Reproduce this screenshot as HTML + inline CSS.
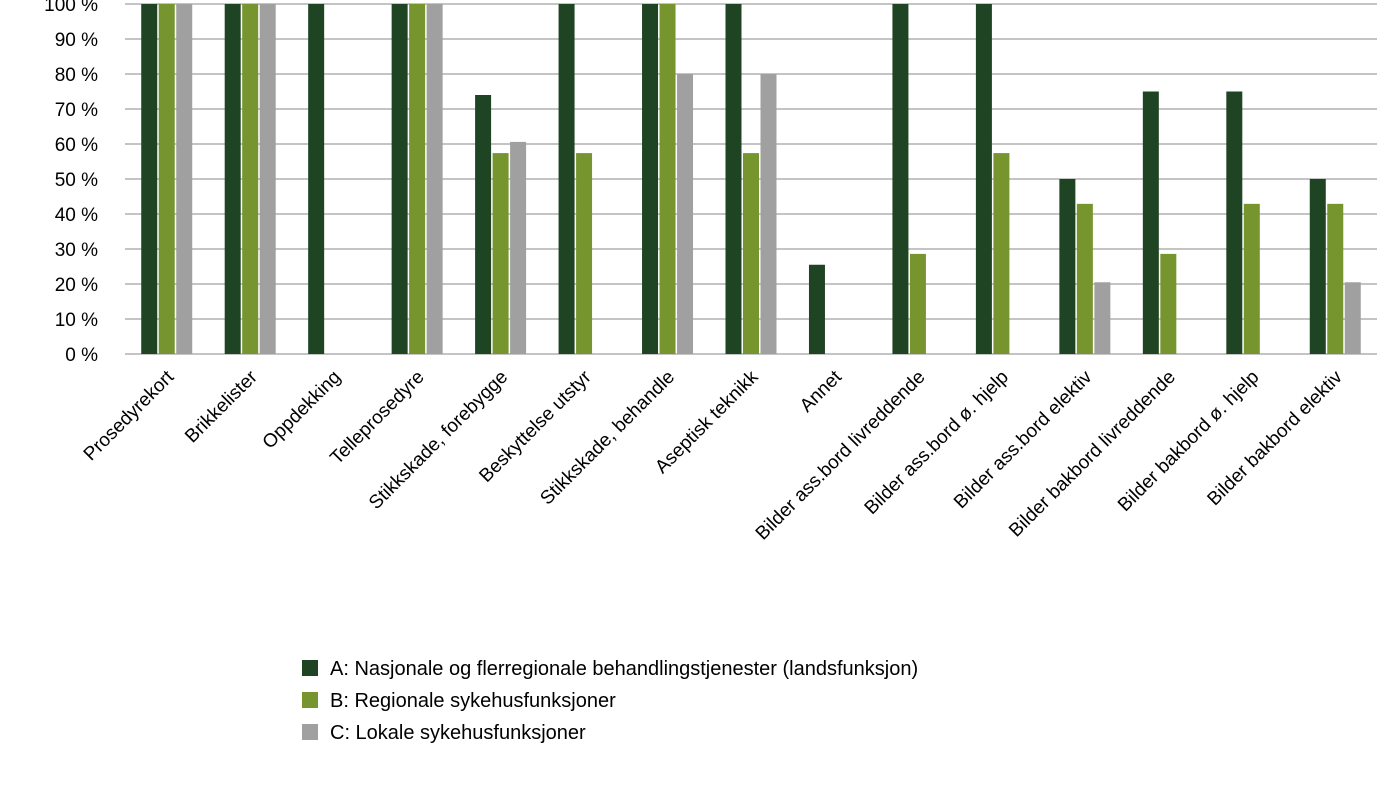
<!DOCTYPE html>
<html><head><meta charset="utf-8"><style>
html,body{margin:0;padding:0;background:#fff;}
svg text{font-family:"Liberation Sans",sans-serif;fill:#000;}
</style></head><body>
<svg id="chart" width="1400" height="786" xmlns="http://www.w3.org/2000/svg"></svg>
<script>
const categories=["Prosedyrekort","Brikkelister","Oppdekking","Telleprosedyre","Stikkskade, forebygge","Beskyttelse utstyr","Stikkskade, behandle","Aseptisk teknikk","Annet","Bilder ass.bord livreddende","Bilder ass.bord ø. hjelp","Bilder ass.bord elektiv","Bilder bakbord livreddende","Bilder bakbord ø. hjelp","Bilder bakbord elektiv"];
const seriesA=[100,100,100,100,74,100,100,100,25.5,100,100,50,75,75,50];
const seriesB=[100,100,0,100,57.4,57.4,100,57.4,0,28.6,57.4,42.9,28.6,42.9,42.9];
const seriesC=[100,100,0,100,60.6,0,80,80,0,0,0,20.5,0,0,20.5];
const yTicks=[0,10,20,30,40,50,60,70,80,90,100];
const seriesNames=["A: Nasjonale og flerregionale behandlingstjenester (landsfunksjon)","B: Regionale sykehusfunksjoner","C: Lokale sykehusfunksjoner"];
const colors=["#1f4423","#77952f","#a0a0a0"];

const svg=document.getElementById('chart');
const NS="http://www.w3.org/2000/svg";
const x0=125,x1=1377,y0=354,y100=4;
const bw=(x1-x0)/categories.length;
const y=v=>y0-(v/100)*(y0-y100);
const xc=i=>x0+bw*(i+0.5);
function mk(t,a){const e=document.createElementNS(NS,t);for(const k in a)e.setAttribute(k,a[k]);svg.appendChild(e);return e;}
yTicks.forEach(t=>{
  const l=mk('line',{x1:x0,x2:x1,y1:y(t),y2:y(t),stroke:t===0?'#888':'#888','stroke-width':1});
  
  
  const tx=mk('text',{x:98,y:y(t)+7,'text-anchor':'end','font-size':19});
  tx.textContent=t+' %';
  
  
});
const series=[seriesA,seriesB,seriesC];
const barW=16,gap=1.5;
categories.forEach((c,i)=>{
  series.forEach((s,j)=>{
    const v=s[i];
    if(v>0){
      const bx=xc(i)+(j-1)*(barW+gap)-barW/2;
      const r=mk('rect',{x:bx,y:y(v),width:barW,height:y0-y(v),fill:colors[j]});
      
      
    }
  });
  const tx=mk('text',{x:xc(i)+8,y:378,'text-anchor':'end','font-size':19,transform:`rotate(-45 ${xc(i)+8} 378)`});
  tx.textContent=c;
  
  
});
seriesNames.forEach((n,j)=>{
  const ly=668+j*32;
  const r=mk('rect',{x:302,y:ly-8,width:16,height:16,fill:colors[j]});
  
  
  const t=mk('text',{x:330,y:ly+7,'font-size':20});
  t.textContent=n;
  
  
});
</script>
</body></html>
